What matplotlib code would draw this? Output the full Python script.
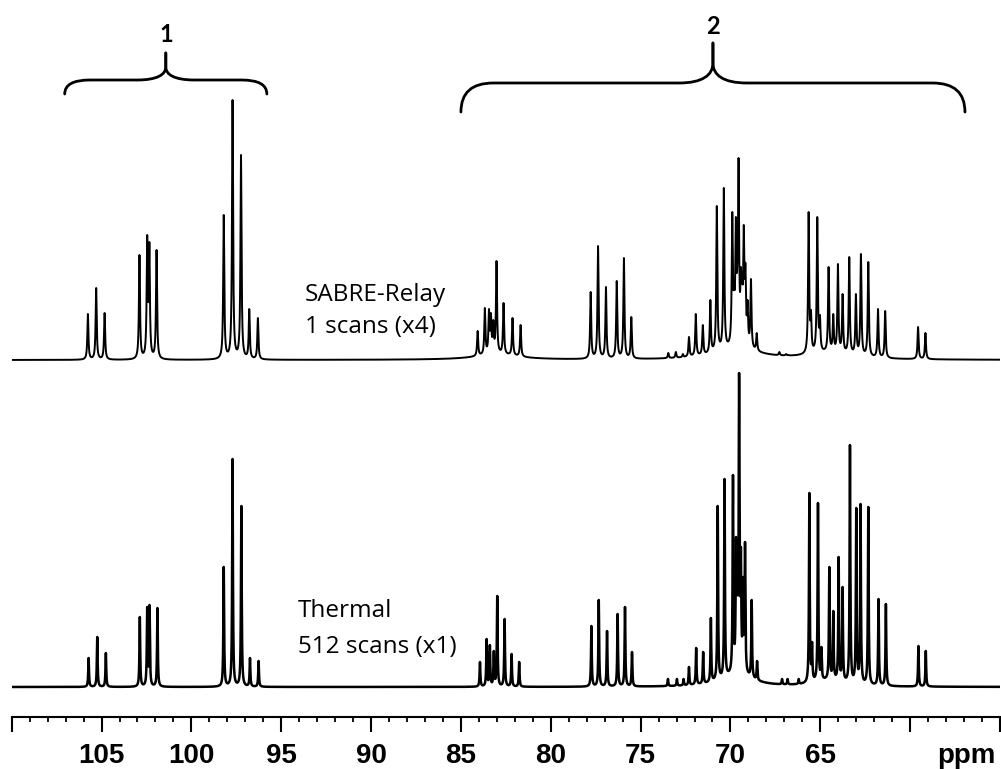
import numpy as np
import matplotlib
matplotlib.use("Agg")
import matplotlib.pyplot as plt
from matplotlib.path import Path
from matplotlib.patches import PathPatch

# peak lists: shift (ppm) and apex height (px above baseline)
sabre_ppm = [105.76, 105.30, 104.83, 102.89, 102.46, 102.34, 101.94,
             98.20, 97.71, 97.24, 96.78, 96.30,
             84.07, 83.67, 83.44, 83.33, 83.20, 83.02, 82.63, 82.13, 81.68,
             77.78, 77.37, 76.93, 76.33, 75.93, 75.52,
             73.46, 73.04, 72.65, 72.31, 71.93, 71.54, 71.12, 70.76, 70.37,
             69.90, 69.80, 69.70, 69.62, 69.55, 69.42, 69.35, 69.26, 69.17, 69.05,
             68.86, 68.54, 67.28, 66.91, 66.78,
             65.65, 65.52, 65.17, 65.02, 64.54, 64.28, 64.02, 63.76, 63.39,
             63.02, 62.74, 62.33, 61.79, 61.39, 59.56, 59.15]
sabre_h = [46, 72, 47, 105, 125, 118, 110,
           145, 260, 205, 51, 42,
           29, 52, 51, 47, 40, 99, 57, 42, 35,
           68, 114, 73, 79, 102, 43,
           7, 8, 6, 23, 46, 35, 60, 154, 172,
           148, 80, 143, 95, 202, 93, 85, 135, 97, 60,
           81, 27, 8, 6, 5,
           148, 50, 143, 45, 93, 46, 96, 66, 103,
           66, 106, 98, 51, 49, 33, 27]

thermal_ppm = [105.72, 105.24, 104.76, 102.87, 102.46, 102.33, 101.89,
               98.20, 97.71, 97.22, 96.74, 96.26,
               83.94, 83.57, 83.39, 83.17, 82.98, 82.57, 82.18, 81.76,
               77.74, 77.33, 76.87, 76.28, 75.87, 75.48,
               73.48, 72.98, 72.61, 72.31, 71.91, 71.52, 71.09, 70.71, 70.33,
               69.86, 69.69, 69.62, 69.52, 69.42, 69.30, 69.19,
               68.82, 68.52, 67.13, 66.82, 66.20,
               65.61, 65.46, 65.13, 64.94, 64.50, 64.28, 63.98, 63.76, 63.35,
               63.00, 62.76, 62.33, 61.76, 61.35, 59.54, 59.13]
thermal_h = [29, 50, 34, 70, 80, 82, 79,
             120, 228, 181, 29, 26,
             25, 48, 42, 36, 91, 68, 33, 25,
             61, 87, 56, 73, 80, 35,
             8, 8, 8, 20, 39, 35, 69, 181, 208,
             212, 150, 140, 314, 140, 110, 145,
             87, 26, 8, 8, 8,
             194, 45, 184, 40, 120, 76, 130, 100, 242,
             179, 183, 180, 88, 83, 41, 36]

# broad baseline humps under the crowded region
sabre_hump_ppm = [69.6, 64.5, 83.0]
sabre_hump_h = [10, 6, 5]
thermal_hump_ppm = [69.6, 64.5]
thermal_hump_h = [12, 6]

major_ticks = [110, 105, 100, 95, 90, 85, 80, 75, 70, 65, 60, 55]
major_labels = ["", "105", "100", "95", "90", "85", "80", "75", "70", "65", "", ""]

ppm = np.linspace(110, 55, 22001)


def lorentz(x, c, a, hw):
    return a / (1.0 + ((x - c) / hw) ** 2)


def trace(centres, heights, fwhm, hump_c, hump_h, hump_fwhm):
    # amplitudes chosen so the summed lines peak at the read-off heights
    c = np.array(centres)
    hw = fwhm / 2.0
    base = np.zeros_like(c)
    hump = np.zeros_like(ppm)
    for hc, hh in zip(hump_c, hump_h):
        base += lorentz(c, hc, hh, hump_fwhm / 2.0)
        hump += lorentz(ppm, hc, hh, hump_fwhm / 2.0)
    A = 1.0 / (1.0 + ((c[:, None] - c[None, :]) / hw) ** 2)
    amp = np.clip(np.linalg.solve(A, np.array(heights) - base), 0, None)
    y = hump.copy()
    for ci, ai in zip(c, amp):
        y += lorentz(ppm, ci, ai, hw)
    return y


top = trace(sabre_ppm, sabre_h, 0.07, sabre_hump_ppm, sabre_hump_h, 3.0)
bottom = trace(thermal_ppm, thermal_h, 0.05, thermal_hump_ppm, thermal_hump_h, 2.0)

top_offset = 327   # baseline of the SABRE trace, same units as heights

fig = plt.figure(figsize=(10.01, 7.69), dpi=100)
ax = fig.add_axes([11.7 / 1001, 52.3 / 769, 988.3 / 1001, 716.7 / 769])

ax.plot(ppm, bottom, color="black", lw=1.8)
ax.plot(ppm, top + top_offset, color="black", lw=1.4)

ax.set_xlim(110, 55.1)
ax.set_ylim(-29.7, 687)

for s in ["top", "left", "right"]:
    ax.spines[s].set_visible(False)
ax.spines["bottom"].set_linewidth(1.5)
ax.set_yticks([])
ax.set_xticks(major_ticks)
ax.set_xticklabels(major_labels, fontfamily="Liberation Sans", fontweight="bold", fontsize=20)
ax.set_xticks(np.arange(55, 111, 1), minor=True)
ax.tick_params(axis="x", which="major", length=11, width=1.5, pad=8)
ax.tick_params(axis="x", which="minor", length=3.8, width=1.3)
ax.text(56.85, -0.036, "ppm", transform=ax.get_xaxis_transform(), ha="center", va="top",
        fontfamily="Liberation Sans", fontweight="bold", fontsize=20)

lab_font = dict(fontfamily="Open Sans", fontsize=17.5, ha="left", va="center")
ax.text(93.67, 392, "SABRE-Relay", **lab_font)
ax.text(93.67, 360, "1 scans (x4)", **lab_font)
ax.text(94.06, 76, "Thermal", **lab_font)
ax.text(94.06, 40, "512 scans (x1)", **lab_font)


def brace(x0, x1, y_end, y_line, y_tip, r_end, r_tip, stem):
    xc = (x0 + x1) / 2.0
    codes = [Path.MOVETO, Path.CURVE3, Path.CURVE3, Path.LINETO,
             Path.CURVE4, Path.CURVE4, Path.CURVE4, Path.LINETO]
    for xe, sgn in ((x0, -1), (x1, 1)):
        verts = [(xe, y_end), (xe, y_line), (xe + sgn * r_end, y_line),
                 (xc - sgn * r_tip, y_line),
                 (xc - sgn * r_tip * 0.3, y_line), (xc, y_line + (y_tip - y_line) * 0.2),
                 (xc, y_line + stem), (xc, y_tip)]
        ax.add_patch(PathPatch(Path(verts, codes), fill=False, lw=2.0,
                               color="black", capstyle="round"))


# brace 1 over 107 - 95.8 ppm, brace 2 over 85 - 57 ppm
brace(107.05, 95.8, 593, 607, 634, 1.4, 1.6, 13)
brace(85.0, 56.95, 575, 604, 644, 1.8, 1.9, 20)
ax.text(101.42, 652, "1", fontfamily="Lato", fontweight="bold", fontsize=17, ha="center", va="center")
ax.text(70.97, 661, "2", fontfamily="Lato", fontweight="bold", fontsize=17, ha="center", va="center")

fig.savefig("out.png", dpi=100)
